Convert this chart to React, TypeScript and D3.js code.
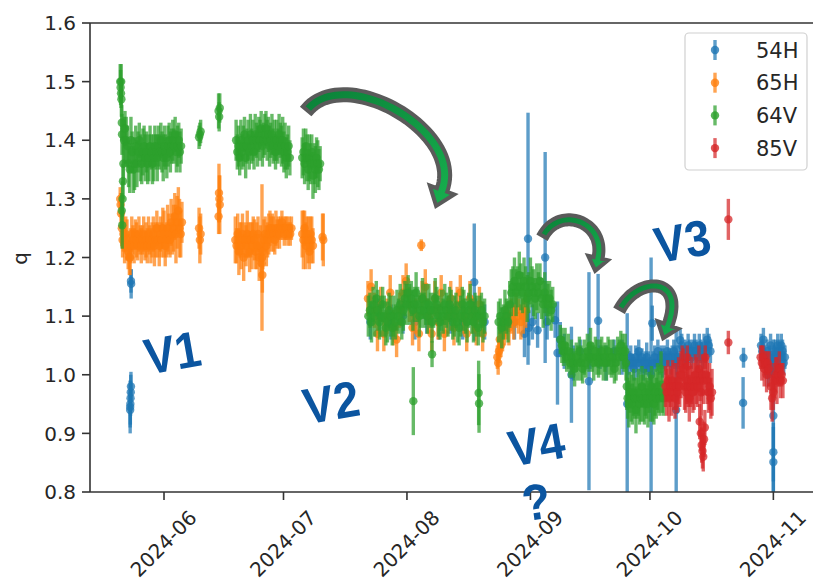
import React from "react";
import * as d3 from "d3";

type Pt = [number, number, number]; // [days since 2024-06-01, q, error]

const seriesNames = ["54H", "65H", "64V", "85V"];
const seriesColors = ["#1f77b4", "#ff7f0e", "#2ca02c", "#d62728"];
const yTicks = [0.8, 0.9, 1.0, 1.1, 1.2, 1.3, 1.4, 1.5, 1.6];

const s54H: Pt[] = [
  [-8.5, 0.94, 0.03], [-8.45, 0.95, 0.035], [-8.4, 0.96, 0.03], [-8.35, 0.97, 0.03], [-8.3, 0.98, 0.025], [-8.5, 0.945, 0.045],
  [-8.3, 1.16, 0.02], [-8.25, 1.155, 0.025],
  [51.8, 1.09, 0.03], [54.0, 1.10, 0.03], [57.0, 1.09, 0.03], [60.0, 1.10, 0.03], [63.0, 1.09, 0.03], [66.0, 1.10, 0.03],
  [69.0, 1.09, 0.03], [72.0, 1.10, 0.03], [75.0, 1.09, 0.03], [77.9, 1.158, 0.1], [78.2, 1.10, 0.03], [80.5, 1.09, 0.03],
  [88.0, 1.09, 0.03], [90.5, 1.07, 0.04], [91.4, 1.232, 0.215], [91.6, 1.08, 0.03], [92.5, 1.09, 0.03], [93.8, 1.076, 0.03],
  [95.7, 1.2, 0.18], [96.2, 1.09, 0.03], [98.2, 1.093, 0.03], [98.8, 1.037, 0.088], [99.5, 1.06, 0.03], [100.5, 1.04, 0.03],
  [102.3, 1.0, 0.082], [102.8, 1.02, 0.03], [104.5, 1.04, 0.02], [106.7, 0.989, 0.186], [107.0, 1.03, 0.02],
  [109.0, 1.092, 0.08], [109.5, 1.03, 0.02], [111.0, 1.02, 0.03], [113.0, 1.04, 0.02], [115.0, 1.03, 0.03], [116.3, 0.95, 0.155],
  [116.8, 1.02, 0.02], [117.2, 1.03, 0.02], [117.6, 1.02, 0.015], [118.0, 1.01, 0.02], [118.4, 1.03, 0.02], [118.8, 1.02, 0.025],
  [119.2, 1.04, 0.02], [119.6, 1.02, 0.02], [120.0, 1.03, 0.015], [120.4, 1.01, 0.02], [120.8, 1.02, 0.02], [121.2, 1.03, 0.025],
  [121.6, 1.02, 0.02], [122.0, 1.01, 0.02], [122.3, 1.0, 0.2], [122.6, 1.088, 0.03], [122.8, 1.02, 0.02], [123.2, 1.03, 0.02],
  [123.6, 1.02, 0.015], [124.0, 1.04, 0.02], [124.4, 1.02, 0.02], [124.8, 1.03, 0.02], [125.2, 1.02, 0.025], [125.6, 1.03, 0.02],
  [126.0, 1.02, 0.02], [126.4, 1.04, 0.02], [126.8, 1.03, 0.015], [127.2, 1.02, 0.02], [127.6, 1.03, 0.02], [128.0, 1.04, 0.02],
  [128.4, 1.03, 0.02], [128.6, 0.94, 0.14], [128.8, 1.02, 0.02], [129.2, 1.03, 0.02], [129.6, 1.059, 0.02], [130.0, 1.05, 0.02],
  [130.4, 1.03, 0.02], [130.8, 1.04, 0.02], [131.2, 1.03, 0.02], [131.6, 1.05, 0.02], [132.0, 1.04, 0.02], [132.4, 1.03, 0.02],
  [132.8, 1.04, 0.02], [133.2, 1.05, 0.02], [133.6, 1.04, 0.02], [134.0, 1.03, 0.02], [134.4, 1.05, 0.02], [134.8, 1.04, 0.02],
  [135.2, 1.03, 0.02], [135.6, 1.05, 0.02], [136.0, 1.04, 0.02], [136.4, 1.06, 0.02], [136.8, 1.05, 0.02], [137.2, 1.04, 0.02],
  [145.5, 1.029, 0.017], [145.4, 0.952, 0.044],
  [149.9, 1.05, 0.02], [150.2, 1.04, 0.02], [150.5, 1.06, 0.02], [150.8, 1.03, 0.02], [151.1, 1.02, 0.02], [151.4, 1.04, 0.02],
  [151.7, 1.00, 0.02], [152.0, 1.03, 0.02], [152.3, 1.05, 0.02], [152.6, 1.02, 0.02], [152.9, 1.01, 0.02], [153.0, 0.93, 0.13],
  [153.0, 0.868, 0.05], [153.0, 0.851, 0.06], [153.2, 1.03, 0.02], [153.5, 1.04, 0.02], [153.8, 1.02, 0.02], [154.1, 1.05, 0.02],
  [154.4, 1.04, 0.02], [154.7, 1.03, 0.02], [155.0, 1.05, 0.02], [155.3, 1.04, 0.02], [155.6, 1.02, 0.02], [155.9, 1.03, 0.02],
];

const s65H: Pt[] = [
  [-11.0, 1.30, 0.02], [-10.9, 1.29, 0.02], [-10.8, 1.275, 0.025], [-10.6, 1.25, 0.03], [-10.4, 1.23, 0.03], [-10.2, 1.24, 0.03],
  [-9.9, 1.22, 0.03], [-9.6, 1.24, 0.03], [-9.3, 1.23, 0.035], [-9.0, 1.21, 0.03], [-8.7, 1.20, 0.03], [-8.5, 1.20, 0.03],
  [-8.4, 1.22, 0.03], [-8.1, 1.24, 0.03], [-7.8, 1.23, 0.025], [-7.5, 1.22, 0.03], [-7.2, 1.24, 0.025], [-6.9, 1.23, 0.03],
  [-6.6, 1.22, 0.025], [-6.3, 1.24, 0.03], [-6.0, 1.23, 0.025], [-5.7, 1.22, 0.03], [-5.4, 1.23, 0.025], [-5.1, 1.24, 0.03],
  [-4.8, 1.22, 0.025], [-4.5, 1.23, 0.03], [-4.2, 1.22, 0.03], [-3.9, 1.24, 0.03], [-3.6, 1.23, 0.025], [-3.3, 1.22, 0.03],
  [-3.0, 1.23, 0.03], [-2.7, 1.24, 0.03], [-2.4, 1.22, 0.035], [-2.1, 1.23, 0.03], [-1.8, 1.25, 0.03], [-1.5, 1.23, 0.03],
  [-1.2, 1.22, 0.035], [-0.9, 1.24, 0.03], [-0.6, 1.23, 0.03], [-0.3, 1.25, 0.035], [0.0, 1.24, 0.04], [0.3, 1.22, 0.035],
  [0.6, 1.23, 0.03], [0.9, 1.25, 0.04], [1.2, 1.24, 0.035], [1.5, 1.23, 0.03], [1.8, 1.26, 0.04], [2.1, 1.24, 0.035],
  [2.4, 1.25, 0.04], [2.7, 1.27, 0.04], [3.0, 1.24, 0.05], [3.3, 1.26, 0.045], [3.6, 1.28, 0.04], [3.9, 1.25, 0.05],
  [4.2, 1.24, 0.04], [4.5, 1.26, 0.035],
  [8.8, 1.25, 0.035], [9.0, 1.23, 0.04], [9.2, 1.24, 0.035],
  [13.7, 1.27, 0.03], [13.8, 1.31, 0.05], [13.9, 1.30, 0.04], [14.0, 1.29, 0.05],
  [17.9, 1.23, 0.04], [18.2, 1.22, 0.03], [18.5, 1.24, 0.035], [18.8, 1.21, 0.04], [19.1, 1.23, 0.03], [19.4, 1.22, 0.04],
  [19.7, 1.24, 0.035], [20.0, 1.20, 0.04], [20.3, 1.23, 0.03], [20.6, 1.22, 0.035], [20.9, 1.24, 0.04], [21.2, 1.23, 0.03],
  [21.5, 1.21, 0.035], [21.8, 1.23, 0.03], [22.1, 1.22, 0.04], [22.4, 1.24, 0.03], [22.7, 1.23, 0.035], [23.0, 1.21, 0.03],
  [23.3, 1.22, 0.04], [23.6, 1.24, 0.03], [23.9, 1.20, 0.04], [24.2, 1.22, 0.035], [24.5, 1.19, 0.03], [24.6, 1.20, 0.125],
  [24.7, 1.17, 0.03], [24.8, 1.21, 0.03], [25.1, 1.23, 0.035], [25.4, 1.24, 0.03], [25.7, 1.22, 0.035], [26.0, 1.23, 0.03],
  [26.3, 1.24, 0.035], [26.6, 1.25, 0.03], [26.9, 1.24, 0.03], [27.2, 1.25, 0.025], [27.5, 1.24, 0.03], [27.8, 1.23, 0.025],
  [28.1, 1.25, 0.03], [28.4, 1.24, 0.025], [28.7, 1.25, 0.02], [29.0, 1.24, 0.025], [29.3, 1.25, 0.02], [29.6, 1.26, 0.02],
  [29.9, 1.25, 0.02], [30.2, 1.24, 0.02], [30.5, 1.25, 0.02], [30.8, 1.25, 0.02], [31.1, 1.24, 0.02], [31.4, 1.25, 0.02],
  [31.7, 1.24, 0.02], [32.0, 1.25, 0.02],
  [34.7, 1.24, 0.04], [35.0, 1.23, 0.05], [35.3, 1.25, 0.03], [35.6, 1.22, 0.04], [35.9, 1.24, 0.03], [36.2, 1.23, 0.04],
  [36.5, 1.21, 0.03], [36.8, 1.24, 0.03], [37.1, 1.23, 0.04], [37.4, 1.22, 0.03], [39.8, 1.235, 0.04], [40.0, 1.23, 0.045],
  [51.2, 1.13, 0.03], [52.0, 1.15, 0.03], [52.8, 1.11, 0.03], [53.6, 1.07, 0.03], [54.4, 1.12, 0.03], [55.2, 1.07, 0.03],
  [56.0, 1.10, 0.03], [56.8, 1.14, 0.03], [57.6, 1.08, 0.03], [58.4, 1.06, 0.03], [59.2, 1.11, 0.03], [60.0, 1.14, 0.03],
  [60.8, 1.16, 0.03], [61.6, 1.12, 0.03], [62.4, 1.08, 0.03], [63.2, 1.10, 0.03], [64.0, 1.07, 0.03], [64.6, 1.221, 0.01],
  [64.8, 1.13, 0.03], [65.6, 1.15, 0.03], [66.4, 1.10, 0.03], [67.2, 1.07, 0.03], [68.0, 1.13, 0.03], [68.8, 1.09, 0.03],
  [69.6, 1.14, 0.03], [70.4, 1.07, 0.03], [71.2, 1.10, 0.03], [72.0, 1.13, 0.03], [72.8, 1.08, 0.03], [73.6, 1.12, 0.03],
  [74.4, 1.14, 0.03], [75.2, 1.10, 0.03], [76.0, 1.07, 0.03], [76.8, 1.13, 0.03], [77.6, 1.10, 0.03], [78.4, 1.08, 0.03],
  [79.2, 1.12, 0.03], [80.0, 1.07, 0.03],
  [83.7, 1.03, 0.02], [83.9, 1.02, 0.02], [84.1, 1.04, 0.02], [84.3, 1.06, 0.03], [84.6, 1.05, 0.02], [85.0, 1.07, 0.03],
  [85.5, 1.08, 0.03], [86.0, 1.09, 0.03], [86.6, 1.08, 0.03], [87.2, 1.10, 0.03], [87.8, 1.09, 0.03], [88.4, 1.11, 0.03],
  [89.0, 1.10, 0.03], [89.6, 1.09, 0.03], [90.2, 1.10, 0.03], [90.8, 1.11, 0.03],
];

const s64V: Pt[] = [
  [-11.0, 1.50, 0.03], [-10.9, 1.49, 0.03], [-10.8, 1.48, 0.025], [-10.75, 1.50, 0.03], [-10.7, 1.47, 0.03], [-10.6, 1.43, 0.03],
  [-10.55, 1.41, 0.035], [-10.6, 1.28, 0.03], [-10.5, 1.255, 0.04], [-10.4, 1.30, 0.03], [-10.3, 1.33, 0.03], [-10.2, 1.36, 0.035],
  [-10.0, 1.40, 0.04], [-9.8, 1.42, 0.03], [-9.5, 1.40, 0.04], [-9.2, 1.39, 0.035], [-8.9, 1.36, 0.04], [-8.6, 1.35, 0.04],
  [-8.3, 1.40, 0.04], [-8.0, 1.38, 0.035], [-7.7, 1.35, 0.04], [-7.4, 1.36, 0.045], [-7.1, 1.39, 0.035], [-6.8, 1.36, 0.04],
  [-6.5, 1.38, 0.035], [-6.2, 1.40, 0.03], [-5.9, 1.37, 0.04], [-5.6, 1.36, 0.035], [-5.3, 1.38, 0.04], [-5.0, 1.39, 0.035],
  [-4.7, 1.37, 0.04], [-4.4, 1.38, 0.035], [-4.1, 1.36, 0.035], [-3.8, 1.37, 0.04], [-3.5, 1.39, 0.035], [-3.2, 1.38, 0.03],
  [-2.9, 1.36, 0.035], [-2.6, 1.37, 0.04], [-2.3, 1.39, 0.035], [-2.0, 1.38, 0.03], [-1.7, 1.37, 0.04], [-1.4, 1.39, 0.035],
  [-1.1, 1.38, 0.03], [-0.8, 1.40, 0.03], [-0.5, 1.38, 0.035], [-0.2, 1.37, 0.04], [0.1, 1.39, 0.035], [0.4, 1.38, 0.03],
  [0.7, 1.37, 0.035], [1.0, 1.39, 0.035], [1.3, 1.40, 0.03], [1.6, 1.38, 0.035], [1.9, 1.39, 0.03], [2.2, 1.40, 0.035],
  [2.5, 1.39, 0.03], [2.8, 1.41, 0.03], [3.1, 1.38, 0.035], [3.4, 1.39, 0.035], [3.7, 1.40, 0.03], [4.0, 1.38, 0.035],
  [4.3, 1.39, 0.03],
  [8.8, 1.405, 0.02], [9.0, 1.41, 0.02], [9.2, 1.415, 0.02],
  [13.7, 1.45, 0.03], [13.85, 1.44, 0.025], [14.0, 1.455, 0.025],
  [18.1, 1.40, 0.035], [18.4, 1.38, 0.03], [18.7, 1.39, 0.035], [19.0, 1.37, 0.03], [19.3, 1.40, 0.035], [19.6, 1.38, 0.03],
  [19.9, 1.39, 0.035], [20.2, 1.41, 0.03], [20.5, 1.37, 0.035], [20.8, 1.39, 0.03], [21.1, 1.40, 0.035], [21.4, 1.38, 0.03],
  [21.7, 1.41, 0.035], [22.0, 1.39, 0.03], [22.3, 1.40, 0.035], [22.6, 1.38, 0.03], [22.9, 1.41, 0.035], [23.2, 1.40, 0.03],
  [23.5, 1.39, 0.035], [23.8, 1.41, 0.03], [24.1, 1.40, 0.035], [24.4, 1.42, 0.03], [24.7, 1.39, 0.035], [25.0, 1.40, 0.03],
  [25.3, 1.41, 0.035], [25.6, 1.42, 0.03], [25.9, 1.40, 0.035], [26.2, 1.41, 0.03], [26.5, 1.39, 0.035], [26.8, 1.40, 0.03],
  [27.1, 1.41, 0.035], [27.4, 1.39, 0.03], [27.7, 1.40, 0.035], [28.0, 1.38, 0.03], [28.3, 1.40, 0.035], [28.6, 1.39, 0.03],
  [28.9, 1.41, 0.035], [29.2, 1.40, 0.03], [29.5, 1.39, 0.035], [29.8, 1.40, 0.04], [30.1, 1.38, 0.035], [30.4, 1.39, 0.04],
  [30.7, 1.37, 0.035], [31.0, 1.38, 0.03], [31.3, 1.39, 0.035], [31.6, 1.37, 0.03],
  [34.7, 1.37, 0.035], [35.0, 1.38, 0.04], [35.3, 1.36, 0.035], [35.6, 1.39, 0.03], [35.9, 1.37, 0.04], [36.2, 1.35, 0.035],
  [36.5, 1.37, 0.04], [36.8, 1.36, 0.035], [37.1, 1.38, 0.03], [37.4, 1.34, 0.04], [37.7, 1.36, 0.035], [38.0, 1.35, 0.04],
  [38.3, 1.37, 0.035], [38.6, 1.36, 0.04], [38.9, 1.35, 0.035], [39.2, 1.36, 0.03],
  [51.3, 1.10, 0.035], [51.7, 1.11, 0.03], [52.1, 1.09, 0.035], [52.5, 1.12, 0.03], [52.9, 1.10, 0.035], [53.3, 1.13, 0.03],
  [53.7, 1.11, 0.035], [54.1, 1.09, 0.03], [54.5, 1.10, 0.035], [54.9, 1.12, 0.03], [55.3, 1.10, 0.035], [55.7, 1.08, 0.03],
  [56.1, 1.09, 0.035], [56.5, 1.11, 0.03], [56.9, 1.10, 0.035], [57.3, 1.08, 0.03], [57.7, 1.10, 0.035], [58.1, 1.09, 0.03],
  [58.5, 1.11, 0.035], [58.9, 1.10, 0.03], [59.3, 1.12, 0.035], [59.7, 1.09, 0.03], [60.1, 1.11, 0.035], [60.5, 1.13, 0.03],
  [60.9, 1.12, 0.035], [61.3, 1.14, 0.03], [61.7, 1.12, 0.035], [62.1, 1.13, 0.03], [62.5, 1.11, 0.035], [62.9, 1.12, 0.03],
  [63.3, 1.14, 0.035], [63.7, 1.12, 0.03], [64.1, 1.10, 0.035], [64.5, 1.11, 0.03], [64.9, 1.13, 0.035], [65.3, 1.11, 0.03],
  [65.7, 1.12, 0.035], [66.1, 1.10, 0.03], [66.5, 1.12, 0.035], [66.9, 1.11, 0.03], [67.3, 1.09, 0.035], [67.7, 1.11, 0.03],
  [68.1, 1.13, 0.035], [68.5, 1.12, 0.03], [68.9, 1.10, 0.035], [69.3, 1.09, 0.03], [69.7, 1.11, 0.035], [70.1, 1.10, 0.03],
  [70.5, 1.12, 0.035], [70.9, 1.11, 0.03], [71.3, 1.10, 0.035], [71.7, 1.12, 0.03], [72.1, 1.11, 0.035], [72.5, 1.09, 0.03],
  [72.9, 1.10, 0.035], [73.3, 1.11, 0.03], [73.7, 1.09, 0.035], [74.1, 1.08, 0.03], [74.5, 1.10, 0.035], [74.9, 1.12, 0.03],
  [75.3, 1.11, 0.035], [75.7, 1.10, 0.03], [76.1, 1.09, 0.035], [76.5, 1.11, 0.03], [76.9, 1.12, 0.035], [77.3, 1.10, 0.03],
  [77.7, 1.09, 0.035], [78.1, 1.11, 0.03], [78.5, 1.10, 0.035], [78.9, 1.08, 0.03], [79.3, 1.10, 0.035], [79.7, 1.11, 0.03],
  [80.1, 1.09, 0.035], [80.5, 1.10, 0.03],
  [62.6, 0.955, 0.058], [67.3, 1.035, 0.022], [79.0, 0.969, 0.055], [79.1, 0.951, 0.05],
  [84.0, 1.09, 0.035], [84.4, 1.10, 0.03], [84.8, 1.08, 0.035], [85.2, 1.09, 0.03], [85.6, 1.11, 0.035], [86.0, 1.10, 0.03],
  [86.4, 1.09, 0.035], [86.8, 1.12, 0.04], [87.2, 1.14, 0.04], [87.6, 1.15, 0.035], [88.0, 1.16, 0.04], [88.4, 1.14, 0.04],
  [88.8, 1.15, 0.035], [89.2, 1.17, 0.04], [89.6, 1.15, 0.04], [90.0, 1.14, 0.035], [90.4, 1.16, 0.04], [90.8, 1.15, 0.035],
  [91.2, 1.13, 0.04], [91.6, 1.14, 0.035], [92.0, 1.16, 0.04], [92.4, 1.15, 0.035], [92.8, 1.14, 0.04], [93.2, 1.13, 0.035],
  [93.6, 1.15, 0.04], [94.0, 1.14, 0.035], [94.4, 1.16, 0.03], [94.8, 1.13, 0.035], [95.2, 1.12, 0.04], [95.6, 1.14, 0.035],
  [96.0, 1.13, 0.03], [96.4, 1.12, 0.035], [96.8, 1.13, 0.03], [97.2, 1.11, 0.035], [97.6, 1.12, 0.03],
  [99.5, 1.06, 0.025], [99.9, 1.05, 0.03], [100.3, 1.04, 0.025], [100.7, 1.05, 0.03], [101.1, 1.03, 0.025], [101.5, 1.04, 0.03],
  [101.9, 1.02, 0.025], [102.3, 1.03, 0.03], [102.7, 1.02, 0.025], [103.1, 1.01, 0.03], [103.5, 1.03, 0.025], [103.9, 1.02, 0.03],
  [104.3, 1.04, 0.025], [104.7, 1.02, 0.03], [105.1, 1.01, 0.025], [105.5, 1.03, 0.03], [105.9, 1.02, 0.025], [106.3, 1.04, 0.03],
  [106.7, 1.03, 0.025], [107.1, 1.05, 0.03], [107.5, 1.03, 0.025], [107.9, 1.02, 0.03], [108.3, 1.04, 0.025], [108.7, 1.03, 0.03],
  [109.1, 1.02, 0.025], [109.5, 1.03, 0.03], [109.9, 1.04, 0.025], [110.3, 1.02, 0.03], [110.7, 1.03, 0.025], [111.1, 1.02, 0.03],
  [111.5, 1.04, 0.025], [111.9, 1.03, 0.03], [112.3, 1.02, 0.025], [112.7, 1.03, 0.03], [113.1, 1.01, 0.025], [113.5, 1.02, 0.03],
  [113.9, 1.04, 0.025], [114.3, 1.03, 0.03], [114.7, 1.05, 0.025], [115.1, 1.04, 0.03], [115.5, 1.03, 0.025],
  [115.8, 1.04, 0.03], [116.0, 1.02, 0.03], [116.2, 0.98, 0.04], [116.4, 0.96, 0.035], [116.7, 0.95, 0.04], [117.0, 0.97, 0.035],
  [117.3, 0.96, 0.04], [117.6, 0.95, 0.035], [117.9, 0.97, 0.04], [118.2, 0.96, 0.035], [118.5, 0.94, 0.04], [118.8, 0.96, 0.035],
  [119.1, 0.97, 0.04], [119.4, 0.95, 0.035], [119.7, 0.96, 0.04], [120.0, 0.98, 0.035], [120.3, 0.96, 0.04], [120.6, 0.95, 0.035],
  [120.9, 0.97, 0.04], [121.2, 0.96, 0.035], [121.5, 0.95, 0.04], [121.8, 0.97, 0.035], [122.1, 0.96, 0.04], [122.4, 0.98, 0.035],
  [122.7, 0.96, 0.04], [123.0, 0.95, 0.035], [123.3, 0.97, 0.04], [123.6, 0.96, 0.035], [123.9, 0.98, 0.04], [124.2, 0.97, 0.035],
  [124.5, 0.96, 0.03], [124.8, 1.01, 0.03], [125.1, 0.97, 0.035], [125.4, 0.96, 0.03],
];

const s85V: Pt[] = [
  [125.9, 0.98, 0.035], [126.2, 0.97, 0.04], [126.5, 0.99, 0.035], [126.8, 0.96, 0.04], [127.1, 0.98, 0.035], [127.4, 0.97, 0.04],
  [127.7, 0.99, 0.035], [128.0, 0.98, 0.04], [128.3, 0.96, 0.035], [128.6, 0.98, 0.04], [128.9, 0.97, 0.035], [129.2, 0.99, 0.04],
  [129.5, 0.98, 0.035], [129.8, 1.00, 0.04], [130.1, 1.02, 0.03], [130.4, 1.01, 0.035], [130.7, 0.98, 0.04], [131.0, 0.97, 0.035],
  [131.3, 0.99, 0.04], [131.4, 1.03, 0.02], [131.5, 1.015, 0.02], [131.6, 0.98, 0.035], [131.9, 0.96, 0.04], [132.2, 0.98, 0.035],
  [132.5, 0.99, 0.04], [132.8, 0.97, 0.035], [133.1, 0.98, 0.04], [133.4, 1.00, 0.035], [133.7, 0.99, 0.04], [134.0, 0.98, 0.035],
  [134.3, 1.01, 0.04], [134.6, 0.99, 0.035], [134.9, 0.97, 0.04], [135.2, 1.0, 0.035], [135.5, 0.99, 0.04], [135.9, 1.03, 0.02],
  [136.1, 1.00, 0.035], [136.4, 0.99, 0.04], [136.7, 0.97, 0.035], [137.0, 0.98, 0.04], [137.3, 0.96, 0.035], [137.6, 0.97, 0.04],
  [134.5, 0.92, 0.03], [134.8, 0.90, 0.03], [135.0, 0.88, 0.03], [135.2, 0.87, 0.03], [135.4, 0.86, 0.025], [135.6, 0.89, 0.03],
  [135.8, 0.91, 0.03],
  [141.7, 1.265, 0.035], [141.7, 1.055, 0.02],
  [149.8, 1.03, 0.02], [150.1, 1.02, 0.03], [150.4, 1.03, 0.02], [150.7, 1.01, 0.03], [151.0, 1.02, 0.02], [151.3, 1.00, 0.03],
  [151.6, 1.02, 0.02], [151.9, 1.01, 0.03],
  [152.4, 0.98, 0.04], [152.7, 0.96, 0.04], [153.0, 0.97, 0.03], [153.3, 0.99, 0.03], [153.6, 1.00, 0.03], [153.9, 0.99, 0.04],
  [154.2, 1.00, 0.02], [154.5, 1.01, 0.03], [154.8, 0.99, 0.03], [155.1, 1.00, 0.02], [155.4, 0.99, 0.03],
];

const seriesData: Pt[][] = [s54H, s65H, s64V, s85V];

// annotation anchors in data coordinates (days since 2024-06-01, q) with tilt
const notes = [
  { label: "V1", day: -4.1, q: 1.0, rot: -10 },
  { label: "V2", day: 35.8, q: 0.915, rot: -10 },
  { label: "V3", day: 124.0, q: 1.19, rot: -10 },
  { label: "V4", day: 87.3, q: 0.843, rot: -10 },
  { label: "?", day: 90.6, q: 0.75, rot: -8 },
];

type P = [number, number];
function arrowPath(p0: P, p1: P, p2: P, p3: P, w: number, hw: number, hl: number) {
  const N = 48;
  const L: P[] = [];
  const R: P[] = [];
  let nx = 0, ny = 0, tx = 0, ty = 0;
  for (let i = 0; i <= N; i++) {
    const t = i / N, m = 1 - t;
    const x = m * m * m * p0[0] + 3 * m * m * t * p1[0] + 3 * m * t * t * p2[0] + t * t * t * p3[0];
    const y = m * m * m * p0[1] + 3 * m * m * t * p1[1] + 3 * m * t * t * p2[1] + t * t * t * p3[1];
    const dx = 3 * m * m * (p1[0] - p0[0]) + 6 * m * t * (p2[0] - p1[0]) + 3 * t * t * (p3[0] - p2[0]);
    const dy = 3 * m * m * (p1[1] - p0[1]) + 6 * m * t * (p2[1] - p1[1]) + 3 * t * t * (p3[1] - p2[1]);
    const len = Math.hypot(dx, dy) || 1;
    tx = dx / len; ty = dy / len;
    nx = -ty; ny = tx;
    L.push([x + (nx * w) / 2, y + (ny * w) / 2]);
    R.push([x - (nx * w) / 2, y - (ny * w) / 2]);
  }
  const e = p3;
  const bl: P = [e[0] + nx * hw, e[1] + ny * hw];
  const br: P = [e[0] - nx * hw, e[1] - ny * hw];
  const tip: P = [e[0] + tx * hl, e[1] + ty * hl];
  const pts = [...L, bl, tip, br, ...R.reverse()];
  return "M" + pts.map((p) => p[0].toFixed(1) + "," + p[1].toFixed(1)).join("L") + "Z";
}

export default function App() {
  const W = 813, H = 588;
  const left = 90, right = 818, top = 23, bottom = 492;
  const x = d3
    .scaleUtc()
    .domain([new Date(Date.UTC(2024, 4, 13, 10)), new Date(Date.UTC(2024, 10, 12, 5))])
    .range([left, right]);
  const y = d3.scaleLinear().domain([0.8, 1.6]).range([bottom, top]);
  const base = Date.UTC(2024, 5, 1);
  const toDate = (d: number) => new Date(base + d * 864e5);
  const xTicks = x.ticks(d3.utcMonth.every(1) as any);
  const fmtX = d3.utcFormat("%Y-%m");
  const fmtY = d3.format(".1f");
  const ink = "#262626";

  const arrows = [
    arrowPath([307, 110], [345, 64], [464, 131], [442, 190], 11, 13, 17),
    arrowPath([543, 236], [560, 205], [606, 222], [598, 258], 9, 10, 13),
    arrowPath([620, 309], [638, 276], [686, 276], [668, 325], 9, 11, 14),
  ];

  return (
    <svg width={W} height={H} style={{ position: "absolute", left: 0, top: 0 }} fontFamily="DejaVu Sans, sans-serif">
      <defs>
        <clipPath id="plotClip">
          <rect x={left} y={top} width={right - left} height={bottom - top} />
        </clipPath>
        <linearGradient id="arrowFill" x1="0" y1="0" x2="1" y2="1">
          <stop offset="0" stopColor="#0a8038" />
          <stop offset="1" stopColor="#16b04e" />
        </linearGradient>
      </defs>
      <rect width={W} height={H} fill="#fff" />
      <g clipPath="url(#plotClip)">
        {seriesData.map((pts, si) => (
          <g key={si}>
            {pts.map((p, i) => (
              <line
                key={"b" + i}
                x1={x(toDate(p[0]))}
                x2={x(toDate(p[0]))}
                y1={y(p[1] - p[2])}
                y2={y(p[1] + p[2])}
                stroke={seriesColors[si]}
                strokeWidth={3.4}
                strokeOpacity={0.72}
              />
            ))}
            {pts.map((p, i) => (
              <circle
                key={"m" + i}
                cx={x(toDate(p[0]))}
                cy={y(p[1])}
                r={4.2}
                fill={seriesColors[si]}
                fillOpacity={0.75}
              />
            ))}
          </g>
        ))}
      </g>
      {/* spines */}
      <g stroke="#333" strokeWidth={1.6} fill="none">
        <line x1={left} x2={left} y1={top} y2={bottom} />
        <line x1={left} x2={right} y1={top} y2={top} />
        <line x1={left} x2={right} y1={bottom} y2={bottom} />
        <line x1={right} x2={right} y1={top} y2={bottom} />
      </g>
      {/* y axis */}
      {yTicks.map((t) => (
        <g key={"y" + t}>
          <line x1={left - 8} x2={left} y1={y(t)} y2={y(t)} stroke="#333" strokeWidth={1.6} />
          <text x={left - 14} y={y(t)} dy="0.36em" textAnchor="end" fontSize={20} fill={ink}>
            {fmtY(t)}
          </text>
        </g>
      ))}
      <text transform={`translate(21,${(top + bottom) / 2 + 1}) rotate(-90)`} textAnchor="middle" dy="0.3em" fontSize={20} fill={ink}>
        q
      </text>
      {/* x axis */}
      {xTicks.map((t) => (
        <g key={"x" + t.getTime()}>
          <line x1={x(t)} x2={x(t)} y1={bottom} y2={bottom + 8} stroke="#333" strokeWidth={1.6} />
          <text
            transform={`translate(${x(t) + 29},${bottom + 22}) rotate(-45)`}
            textAnchor="end"
            dy="0.36em"
            fontSize={20}
            fill={ink}
          >
            {fmtX(t)}
          </text>
        </g>
      ))}
      {/* legend */}
      <g>
        <rect x={685} y={33} width={122} height={137} rx={4} fill="#fff" fillOpacity={0.8} stroke="#d0d0d0" strokeWidth={1.2} />
        {seriesNames.map((n, i) => {
          const cy = 50 + i * 32.7;
          return (
            <g key={n}>
              <line x1={715} x2={715} y1={cy - 10} y2={cy + 10} stroke={seriesColors[i]} strokeWidth={3.4} strokeOpacity={0.72} />
              <circle cx={715} cy={cy} r={4.2} fill={seriesColors[i]} fillOpacity={0.8} />
              <text x={756} y={cy} dy="0.36em" fontSize={21} fill={ink}>
                {n}
              </text>
            </g>
          );
        })}
      </g>
      {/* arrows */}
      {arrows.map((d, i) => (
        <path key={"a" + i} d={d} fill="url(#arrowFill)" stroke="#5a5a5a" strokeWidth={4} strokeLinejoin="miter" />
      ))}
      {/* annotations */}
      {notes.map((a) => (
        <text
          key={a.label}
          transform={`translate(${x(toDate(a.day))},${y(a.q)}) rotate(${a.rot}) scale(1,1.1)`}
          fontFamily="Liberation Sans, Arial, sans-serif"
          fontWeight="bold"
          fontSize={46}
          fill="#0b55a0"
        >
          {a.label}
        </text>
      ))}
    </svg>
  );
}
